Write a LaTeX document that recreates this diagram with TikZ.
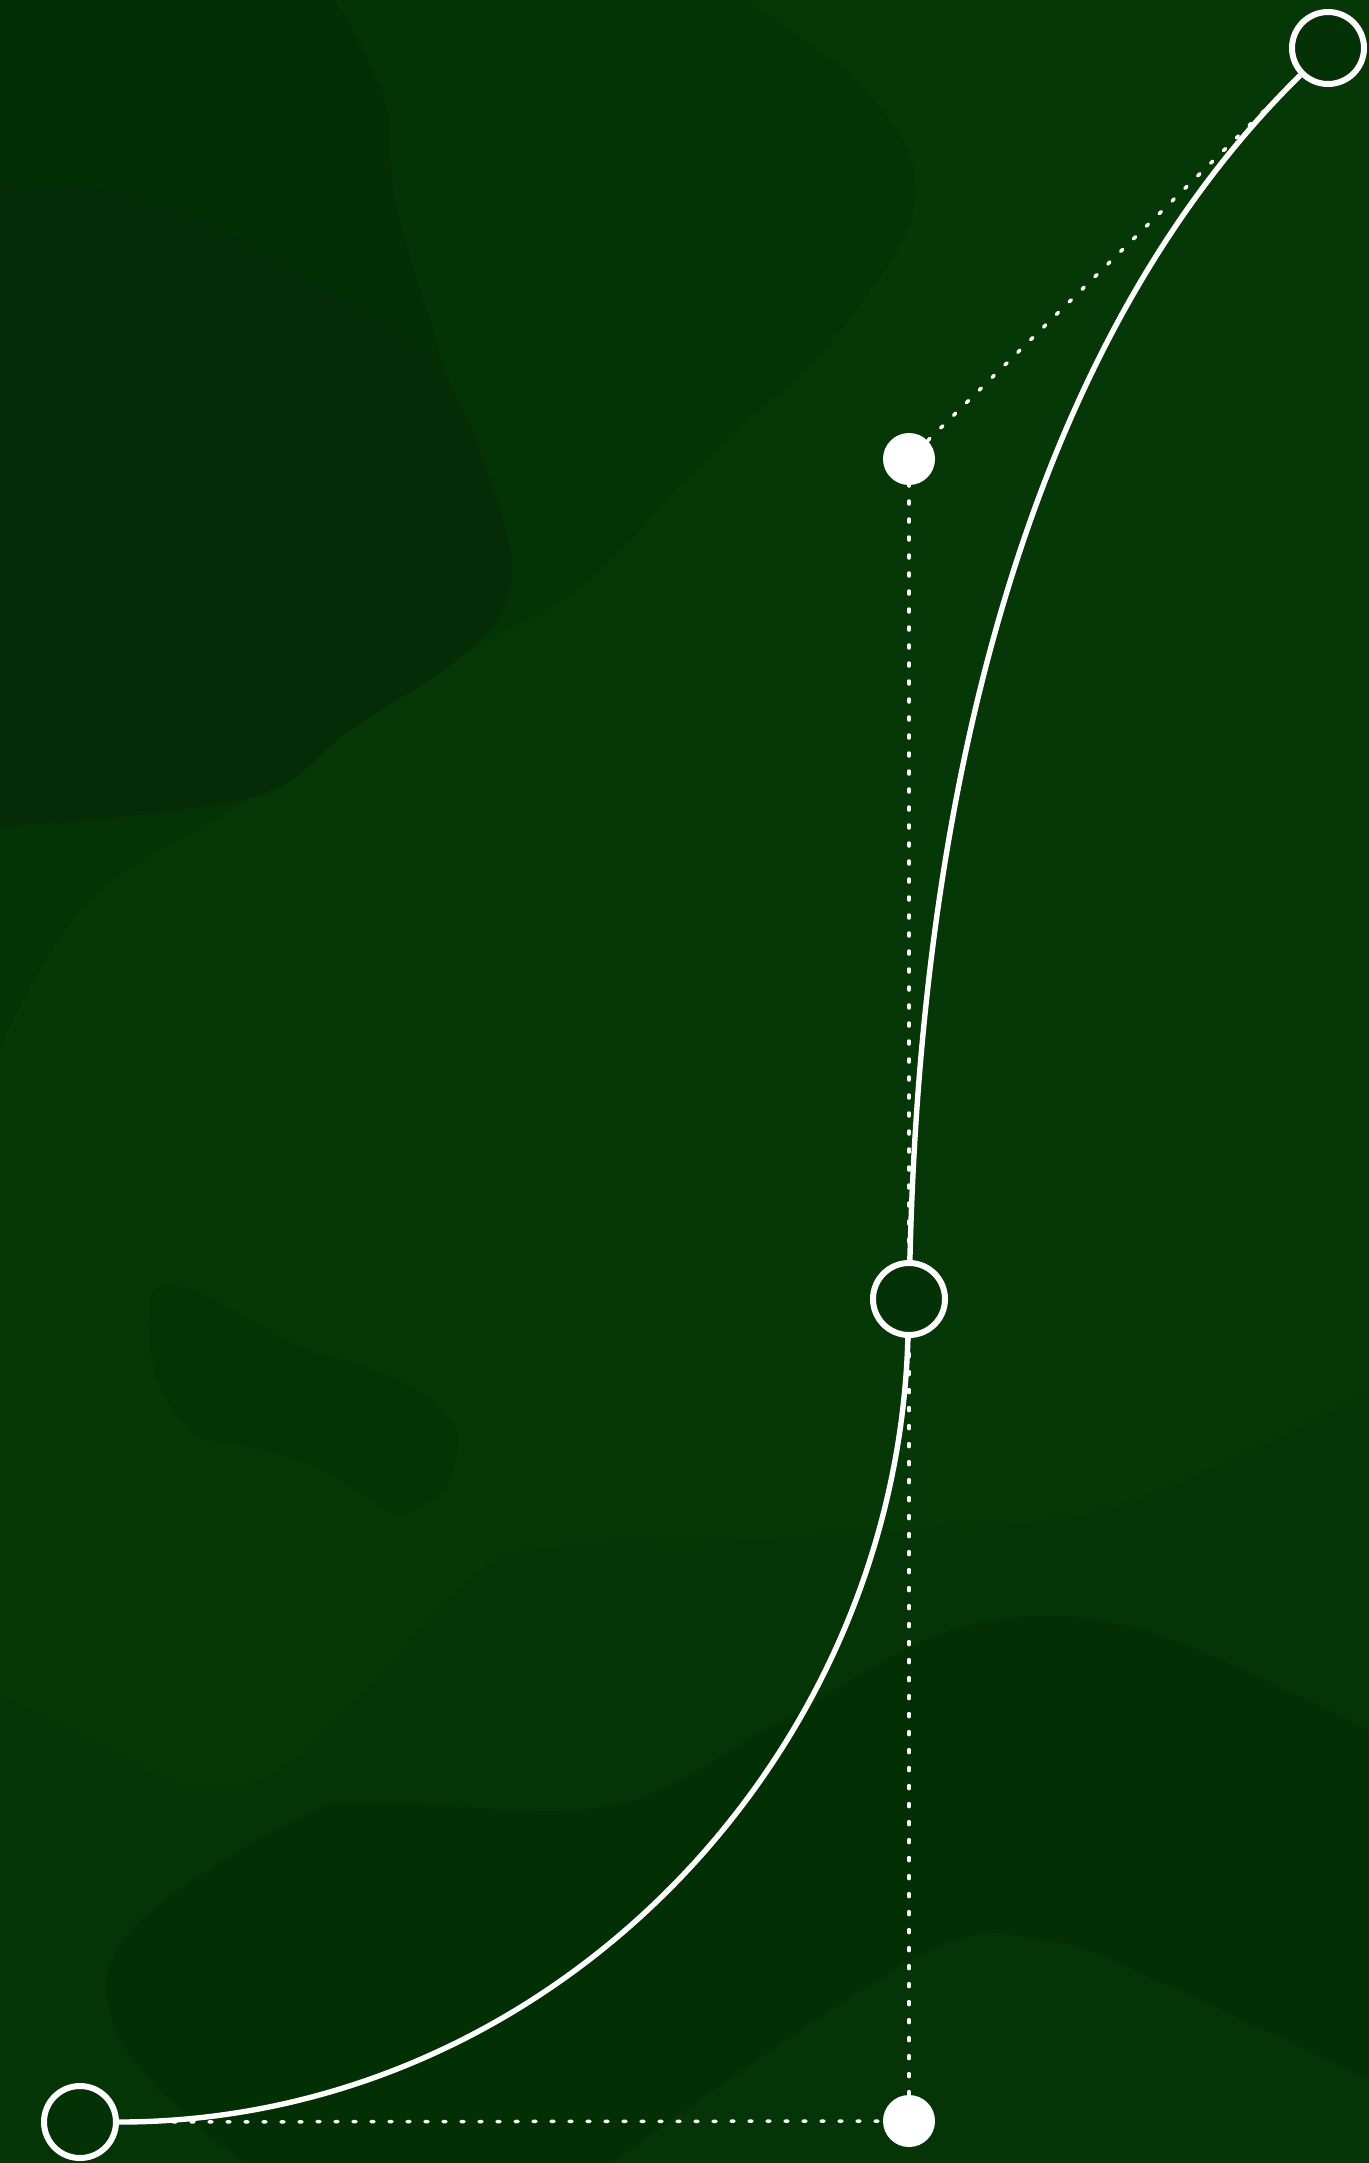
\documentclass[tikz,border=0pt]{standalone}
\definecolor{bgGreen}{RGB}{6,56,7}
\definecolor{blobA}{RGB}{4,51,6}
\definecolor{blobAtop}{RGB}{3,47,5}
\definecolor{blobB}{RGB}{5,43,7}
\definecolor{blobC}{RGB}{4,51,5}
\definecolor{waveLight}{RGB}{5,53,6}
\definecolor{waveDark}{RGB}{3,47,5}
\definecolor{ringFill}{RGB}{4,50,6}
\begin{document}
\begin{tikzpicture}[x=0.5pt,y=-0.5pt,
  anchorpt/.style={circle,draw=white,line width=3pt,fill=ringFill,minimum size=36pt,inner sep=0pt},
  handlept/.style={circle,fill=white,minimum size=26pt,inner sep=0pt},
  guide/.style={white,line width=1.75pt,line cap=round,dash pattern=on 1.5pt off 7.5pt},
  curve/.style={white,line width=2.7pt}]
\useasboundingbox (0,0) rectangle (1369,2163);
\fill[bgGreen] (0,0) rectangle (1369,2163);
\fill[blobA] (0,0) -- plot[smooth,tension=0.6] coordinates {(745,0) (870,95) (915,200) (840,330) (700,465) (580,588) (464,654) (250,798) (89,900) (0,1048)} -- cycle;
\fill[blobAtop] (0,0) -- plot[smooth,tension=0.6] coordinates {(335,0) (385,100) (395,200) (446,373) (511,585)} -- (0,585) -- cycle;
\fill[blobB] plot[smooth,tension=0.6] coordinates {(0,184) (150,200) (300,275) (430,360) (490,480) (511,585) (464,654) (350,730) (250,798) (0,827)} -- cycle;
\fill[blobC] plot[smooth cycle,tension=0.6] coordinates {(153,1293) (183,1287) (233,1310) (300,1347) (367,1367) (417,1390) (453,1423) (457,1450) (443,1490) (400,1515) (367,1497) (317,1467) (250,1447) (200,1437) (167,1400) (150,1350)};
\fill[waveLight] plot[smooth,tension=0.6] coordinates {(0,1693) (100,1745) (201,1790) (288,1764) (375,1680) (450,1600) (524,1550) (698,1541) (873,1531) (1091,1512) (1250,1450) (1369,1389)} -- (1369,2163) -- (0,2163) -- cycle;
\fill[waveDark] plot[smooth,tension=0.6] coordinates {(244,2163) (157,2087) (113,2022) (113,1957) (175,1893) (306,1815) (375,1802) (611,1806) (786,1718) (960,1628) (1135,1628) (1369,1731)} -- (1369,2163) -- cycle;
\fill[waveLight] plot[smooth,tension=0.6] coordinates {(611,2163) (917,1957) (1048,1941) (1178,1990) (1369,2080)} -- (1369,2163) -- cycle;

\node[anchorpt] (start) at (80,2122) {};
\node[handlept] (hlow) at (909,2121) {};
\node[anchorpt] (mid) at (909,1299) {};
\node[handlept] (hup) at (909,459) {};
\node[anchorpt] (end) at (1328,48) {};

\draw[guide] (start) -- (hlow);
\draw[guide] (hlow) -- (mid);
\draw[guide] (mid) -- (hup);
\draw[guide] (hup) -- (end);

\draw[curve] (start) .. controls (545,2122) and (896,1764) .. (mid);
\draw[curve] (mid) .. controls (922,739) and (1049,322) .. (end);
\end{tikzpicture}
\end{document}
